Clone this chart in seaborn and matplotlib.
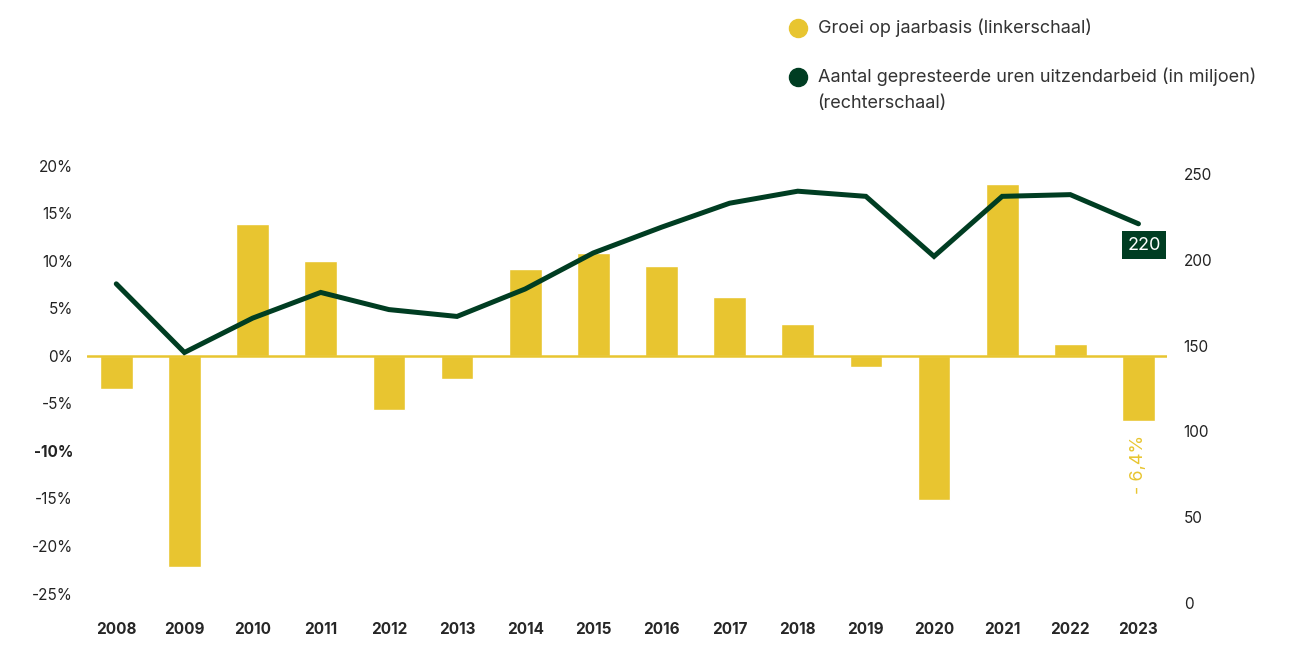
import numpy as np
import pandas as pd
import matplotlib.pyplot as plt
import seaborn as sns
from matplotlib.ticker import FuncFormatter

# data
years = ["2008", "2009", "2010", "2011", "2012", "2013", "2014", "2015",
         "2016", "2017", "2018", "2019", "2020", "2021", "2022", "2023"]
growth = [-3.5, -22.2, 13.9, 10.0, -5.7, -2.4, 9.1, 10.8,
          9.4, 6.2, 3.4, -1.2, -15.2, 18.1, 1.3, -6.9]
hours = [186, 146, 166, 181, 171, 167, 183, 204,
         219, 233, 240, 237, 202, 237, 238, 221]

yellow = "#E8C530"
green = "#003D22"

df = pd.DataFrame({"year": years, "growth": growth, "hours": hours})

sns.set_style("white")
plt.rcParams["font.family"] = ["Inter", "DejaVu Sans"]

fig = plt.figure(figsize=(13.04, 6.49), dpi=100)
ax = fig.add_axes([0.0667, 0.0678, 0.8283, 0.6857])

sns.barplot(data=df, x="year", y="growth", color=yellow, saturation=1,
            width=0.48, ax=ax)
ax.axhline(0, color=yellow, lw=1.8, zorder=1)
ax.set_xlim(-0.43, 15.42)
ax.set_ylim(-26.2, 20.6)
ax.set_yticks(np.arange(-25, 21, 5))
ax.yaxis.set_major_formatter(FuncFormatter(lambda v, p: f"{v:.0f}%"))
ax.set_xlabel("")
ax.set_ylabel("")
ax.tick_params(axis="y", length=0, pad=10, labelsize=11, labelcolor="#222222")
ax.tick_params(axis="x", length=0, pad=12, labelsize=11)
for lab in ax.get_xticklabels():
    lab.set_fontweight("bold")
for lab in ax.get_yticklabels():
    if lab.get_text() == "-10%":
        lab.set_fontweight("bold")

ax2 = ax.twinx()
sns.lineplot(data=df, x="year", y="hours", color=green, lw=3.6, sort=False,
             ax=ax2, solid_capstyle="round", solid_joinstyle="miter")
ax2.set_ylim(-1.2, 258.2)
ax2.set_yticks(range(0, 251, 50))
ax2.set_ylabel("")
ax2.tick_params(axis="y", length=0, pad=12, labelsize=11, labelcolor="#222222")

for a in (ax, ax2):
    for s in a.spines.values():
        s.set_visible(False)

# annotations
ax2.text(15.08, 208.5, "220", color="white", fontsize=13, ha="center", va="center",
         bbox=dict(boxstyle="square,pad=0.3", fc=green, ec="none"))
ax.text(15.0, -8.3, "- 6,4%", color=yellow, fontsize=13, rotation=90,
        ha="center", va="top")

# legend
fig.text(0.627, 0.957, "Groei op jaarbasis (linkerschaal)", fontsize=13,
         color="#333333", va="center")
fig.text(0.627, 0.881, "Aantal gepresteerde uren uitzendarbeid (in miljoen)",
         fontsize=13, color="#333333", va="center")
fig.text(0.627, 0.841, "(rechterschaal)", fontsize=13, color="#333333", va="center")
fig.add_artist(plt.Line2D([0.612], [0.957], marker="o", markersize=13,
                          color=yellow, ls="none", transform=fig.transFigure))
fig.add_artist(plt.Line2D([0.612], [0.881], marker="o", markersize=13,
                          color=green, ls="none", transform=fig.transFigure))

fig.savefig("out.png", dpi=100)
